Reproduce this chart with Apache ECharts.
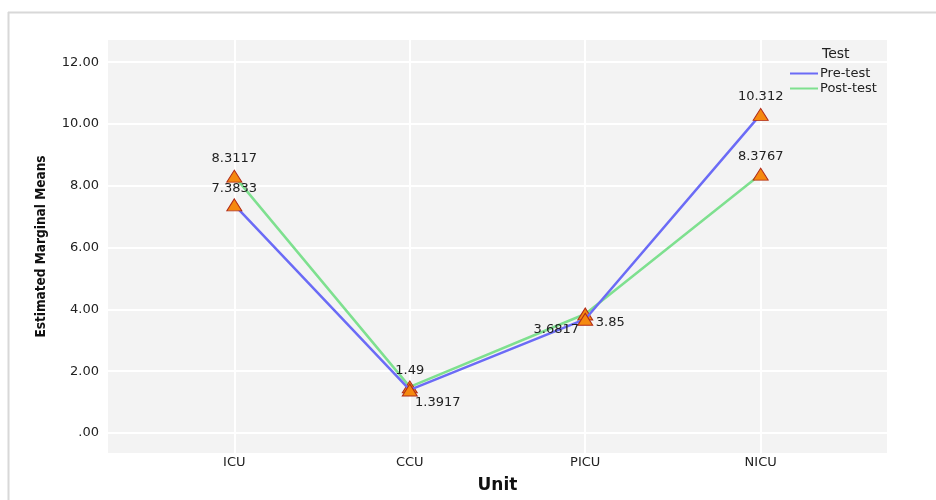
<!DOCTYPE html>
<html>
<head>
<meta charset="utf-8">
<script src="https://cdn.jsdelivr.net/npm/echarts@6/dist/echarts.min.js"></script>
<style>html,body{margin:0;padding:0;background:#fff}#c{width:936px;height:500px}</style>
</head>
<body>
<div id="c"></div>
<script>
var categories = ['ICU', 'CCU', 'PICU', 'NICU'];
var preTest = [7.3833, 1.3917, 3.6817, 10.312];
var postTest = [8.3117, 1.49, 3.85, 8.3767];
var yTicks = [0, 2, 4, 6, 8, 10, 12];
var xTicks = [0, 1, 2, 3];

var preLabelOpts = [
  {position: 'top', distance: 3},
  {position: 'inside', offset: [28, 13]},
  {position: 'inside', offset: [-29, 10]},
  {position: 'top', distance: 5}
];
var postLabelOpts = [
  {position: 'top', distance: 5},
  {position: 'top', distance: 3},
  {position: 'inside', offset: [25, 9]},
  {position: 'top', distance: 5}
];

var markerStyle = {color: '#f5890f', borderColor: '#b02a18', borderWidth: 1};

function buildData(vals, labs) {
  return vals.map(function (v, i) {
    return {value: [i, v], label: labs[i], itemStyle: markerStyle};
  });
}

var FONT = 'DejaVu Sans, sans-serif';
var labelBase = {show: true, color: '#222', fontSize: 13, fontFamily: FONT,
  formatter: function (p) { return String(p.value[1]); }};

var chart = echarts.init(document.getElementById('c'), null, {renderer: 'canvas'});
chart.setOption({
  animation: false,
  backgroundColor: '#fff',
  graphic: [
    {type: 'line', shape: {x1: 8, y1: 12.5, x2: 936, y2: 12.5}, style: {stroke: '#d8d8d8', lineWidth: 2}},
    {type: 'line', shape: {x1: 8.5, y1: 12, x2: 8.5, y2: 500}, style: {stroke: '#d8d8d8', lineWidth: 2}}
  ],
  title: {
    text: 'Test', left: 817, top: 42,
    textStyle: {fontSize: 14, fontWeight: 'normal', color: '#222', fontFamily: FONT}
  },
  legend: {
    orient: 'vertical', left: 785, top: 62, itemGap: 2,
    itemWidth: 28, itemHeight: 2, icon: 'rect',
    textStyle: {fontSize: 13, color: '#222', fontFamily: FONT, padding: [0, 0, 0, -3]},
    data: ['Pre-test', 'Post-test']
  },
  grid: {
    left: 108, right: 49, top: 40, bottom: 47, show: true, outerBoundsMode: 'none',
    backgroundColor: '#f3f3f3', borderWidth: 0
  },
  xAxis: {
    type: 'value', min: -0.72, max: 3.72,
    name: 'Unit', nameLocation: 'middle', nameGap: 24,
    nameTextStyle: {fontSize: 17, fontWeight: 'bold', color: '#111', fontFamily: FONT},
    axisLine: {show: false},
    axisTick: {show: false, customValues: xTicks},
    axisLabel: {customValues: xTicks, margin: 3, fontSize: 13, color: '#222',
      fontFamily: FONT,
      formatter: function (v) { return categories[Math.round(v)] || ''; }},
    splitLine: {show: true, lineStyle: {color: '#ffffff', width: 2}}
  },
  yAxis: {
    type: 'value', min: -0.65, max: 12.72,
    name: 'Estimated Marginal Means', nameLocation: 'middle', nameGap: 60, nameRotate: 90,
    nameTextStyle: {fontSize: 13.5, fontWeight: 'bold', color: '#111', fontFamily: 'DejaVu Sans Condensed, DejaVu Sans, sans-serif'},
    axisLine: {show: false},
    axisTick: {show: false, customValues: yTicks},
    axisLabel: {customValues: yTicks, margin: 9, fontSize: 13, color: '#222',
      fontFamily: FONT,
      formatter: function (v) { return v === 0 ? '.00' : v.toFixed(2); }},
    splitLine: {show: true, lineStyle: {color: '#ffffff', width: 2}}
  },
  series: [
    {
      name: 'Pre-test', type: 'line', data: buildData(preTest, preLabelOpts),
      lineStyle: {color: '#6b6bf6', width: 2.5},
      itemStyle: {color: '#6b6bf6'},
      symbol: 'triangle', symbolSize: [15, 12],
      label: labelBase, z: 3
    },
    {
      name: 'Post-test', type: 'line', data: buildData(postTest, postLabelOpts),
      lineStyle: {color: '#7ee08f', width: 2.5},
      itemStyle: {color: '#7ee08f'},
      symbol: 'triangle', symbolSize: [15, 12],
      label: labelBase, z: 2
    }
  ]
});
</script>
</body>
</html>
